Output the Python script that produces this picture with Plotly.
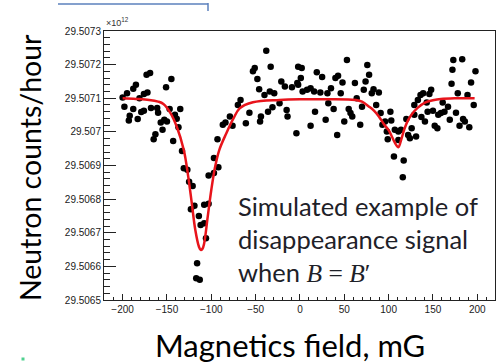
import plotly.graph_objects as go

# ---- data (x in mG, y in units of 1e12 counts/hour) ----
field_mG = [
    -200, -195, -198, -188, -185, -192, -193, -188, -183, -179, -176, -181, -176, -172, -173, -169,
    -168, -161, -160, -163, -165, -155, -157, -153, -150, -151, -145, -147, -141, -139, -135, -137,
    -143, -133, -131, -127, -125, -121, -119, -123, -114, -112, -116, -117, -113,
    -106, -108, -108, -103, -103, -97, -92, -97, -93, -87, -84, -79, -76, -70, -67, -61, -57,
    -53, -51, -48, -44, -45, -46, -40, -38, -36, -33, -34, -29, -31, -23, -21, -17, -15, -14,
    -9, -4, -2, -2,
    2, -3, 1, 3, 8, 12, 16, 12, 17, 19, 23, 25, 29, 31, 32, 35, 38, 40, 43, 42, 46, 48, 50, 53,
    55, 57, 59, 62, 64, 68, 70, 72, 74, 76, 78, 81, 83, 86, 89, 91, 93, 96, 98, 102, 103, 99, 106,
    107, 111, 111, 114, 117, 116, 120, 122, 124, 126, 129, 131, 129, 133, 136, 139, 137, 141, 143,
    144, 146, 148, 150, 152, 155, 156, 159, 161, 163, 167, 169, 171, 173, 172, 178, 176, 180, 183,
    184, 186, 189, 191, 193, 196, 198,
]
counts = [
    29.507102, 29.507115, 29.507075, 29.507128, 29.507140, 29.507048, 29.507034, 29.507068,
    29.507038, 29.507059, 29.507063, 29.507100, 29.507113, 29.507117, 29.507170, 29.507175,
    29.507071, 29.507071, 29.507057, 29.506993, 29.506978, 29.507006, 29.507028, 29.507036,
    29.507031, 29.507133, 29.507157, 29.507068, 29.507051, 29.507039, 29.507068, 29.507014,
    29.506973, 29.506943, 29.506892, 29.506887, 29.506852, 29.506839, 29.506780, 29.506770,
    29.506750, 29.506723, 29.506609, 29.506565, 29.506560,
    29.506684, 29.506728, 29.506783, 29.506786, 29.506870, 29.506878, 29.506895, 29.506922,
    29.506978, 29.507021, 29.507028, 29.507046, 29.507018, 29.507080, 29.507095, 29.507026,
    29.507057, 29.507180, 29.507190, 29.507157, 29.507046, 29.507031, 29.507127, 29.507110,
    29.507241, 29.507060, 29.507194, 29.507120, 29.507115, 29.507073, 29.507085, 29.507150,
    29.507135, 29.507065, 29.507046, 29.507133, 29.506996, 29.507194, 29.507140,
    29.507190, 29.507145, 29.507160, 29.507120, 29.507125, 29.507130, 29.507120, 29.507018,
    29.507060, 29.507177, 29.507117, 29.507163, 29.507036, 29.507115, 29.507085, 29.507130,
    29.507068, 29.507160, 29.507167, 29.506991, 29.507115, 29.507147, 29.507031, 29.507214,
    29.507068, 29.507056, 29.507046, 29.507145, 29.507100, 29.507021, 29.507075, 29.507125,
    29.507150, 29.507199, 29.507170, 29.507115, 29.507127, 29.507080, 29.507117, 29.507056,
    29.507021, 29.507031, 29.507001, 29.507060, 29.507034, 29.506978, 29.506927,
    29.507006, 29.507001, 29.506976, 29.507006, 29.506915, 29.506865, 29.507038, 29.506991,
    29.506981, 29.507011, 29.507051, 29.506986, 29.507080, 29.507095, 29.507110, 29.507115,
    29.507044, 29.507031, 29.507087, 29.507060, 29.507113, 29.507125, 29.507063, 29.507018,
    29.507011, 29.507051, 29.507056, 29.507087, 29.507060, 29.507075, 29.507036, 29.507143,
    29.507214, 29.507185, 29.507115, 29.507057, 29.507018, 29.507216, 29.507038, 29.507031,
    29.507110, 29.507014, 29.507147, 29.507080, 29.507180,
]

fit_x = [-200, -185, -170, -160, -154, -146, -139, -131, -126, -122, -118, -114, -112, -110,
         -108, -104, -100, -96, -91, -83, -75, -68, -53, -23, 0, 30, 63, 70, 78, 84, 89, 95,
         100, 103, 107, 111, 114, 118, 122, 126, 133, 141, 150, 159, 175, 197]
fit_y = [29.507100, 29.507098, 29.507095, 29.507090, 29.507083, 29.507056, 29.507016,
         29.506946, 29.506867, 29.506788, 29.506708, 29.506659, 29.506649, 29.506652,
         29.506669, 29.506748, 29.506827, 29.506892, 29.506946, 29.506996, 29.507040,
         29.507070, 29.507088, 29.507095, 29.507097, 29.507097, 29.507095, 29.507090,
         29.507075, 29.507062, 29.507046, 29.507022, 29.507005, 29.506990, 29.506968,
         29.506954, 29.506975, 29.507010, 29.507035, 29.507052, 29.507072, 29.507087,
         29.507094, 29.507098, 29.507100, 29.507100]

y_tick_vals = [29.5065, 29.5066, 29.5067, 29.5068, 29.5069, 29.5070, 29.5071, 29.5072, 29.5073]
y_tick_text = ["29.5065", "29.5066", "29.5067", "29.5068", "29.5069", "29.507", "29.5071",
               "29.5072", "29.5073"]
x_tick_vals = [-200, -150, -100, -50, 0, 50, 100, 150, 200]

fig = go.Figure()
fig.add_trace(go.Scatter(x=field_mG, y=counts, mode="markers",
                         marker=dict(color="black", size=6.5), showlegend=False))
fig.add_trace(go.Scatter(x=fit_x, y=fit_y, mode="lines", line=dict(color="#e8141b", width=2.5, shape="spline"),
                         showlegend=False))

tickfont = dict(family="Liberation Sans", size=10, color="#1a1a1a")
fig.update_xaxes(range=[-221, 220], tickvals=x_tick_vals, ticks="inside", ticklen=6, tickcolor="#222",
                 showline=True, linecolor="#222", linewidth=1, mirror=True, showgrid=False,
                 zeroline=False, tickfont=tickfont,
                 minor=dict(dtick=10, ticks="inside", ticklen=3, tickcolor="#222", showgrid=False))
fig.update_yaxes(range=[29.5065, 29.5073], tickvals=y_tick_vals, ticktext=y_tick_text,
                 ticks="inside", ticklen=12, tickcolor="#222",
                 showline=True, linecolor="#222", linewidth=1, mirror=True, showgrid=False,
                 zeroline=False, tickfont=tickfont,
                 minor=dict(dtick=0.00002, ticks="inside", ticklen=6, tickcolor="#222", showgrid=False))

W, H = 503, 364
L, R, T, B = 104, 8, 31, 64
pw, ph = W - L - R, H - T - B

def px(xp):
    return (xp - L) / pw

def py(yp):
    return (H - B - yp) / ph

annos = [
    dict(text="×10<sup>12</sup>", x=px(104), y=py(22), xanchor="left", yanchor="middle",
         font=dict(family="Liberation Sans", size=9, color="#333")),
    dict(text="Neutron counts/hour", x=px(30), y=py(168), textangle=-90, xanchor="center",
         yanchor="middle", font=dict(family="Lato", size=28.5, color="black")),
    dict(text="Magnetics field, mG", x=px(290), y=py(345), xanchor="center", yanchor="middle",
         font=dict(family="Lato", size=31, color="black")),
    dict(text="Simulated example of<br>disappearance signal<br>when <span style=\"font-family:'Liberation Serif'\"><i>B</i> = <i>B</i>′</span>",
         x=px(236), y=py(239), xanchor="left", yanchor="middle", align="left",
         font=dict(family="Lato", size=25.5, color="#1e2128")),
]
for a in annos:
    a.update(xref="paper", yref="paper", showarrow=False)

shapes = [
    dict(type="line", xref="paper", yref="paper", x0=px(58), x1=px(208), y0=py(4), y1=py(4),
         line=dict(color="#5b80bd", width=1.5)),
    dict(type="line", xref="paper", yref="paper", x0=px(208), x1=px(208), y0=py(3), y1=py(11),
         line=dict(color="#5b80bd", width=1.5)),
    dict(type="rect", xref="paper", yref="paper", x0=px(21.5), x1=px(24.5), y0=py(357.5), y1=py(360.5),
         line=dict(width=0), fillcolor="#4fd08f"),
]

fig.update_layout(width=W, height=H, margin=dict(l=L, r=R, t=T, b=B),
                  paper_bgcolor="white", plot_bgcolor="white",
                  annotations=annos, shapes=shapes)
fig.write_html("out.html")
